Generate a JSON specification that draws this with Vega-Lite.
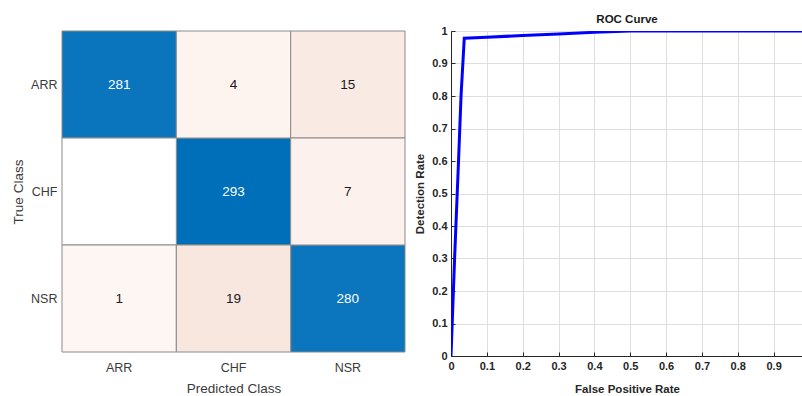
{
  "$schema": "https://vega.github.io/schema/vega-lite/v6.json",
  "autosize": {"type": "pad"},
  "padding": {"left": 11, "top": 13, "right": 0, "bottom": 0},
  "bounds": "flush",
  "spacing": 46,
  "config": {
    "font": "Liberation Sans",
    "view": {"stroke": null}
  },
  "datasets": {
    "cm": [
      {"trueClass": "ARR", "predClass": "ARR", "count": 281},
      {"trueClass": "ARR", "predClass": "CHF", "count": 4},
      {"trueClass": "ARR", "predClass": "NSR", "count": 15},
      {"trueClass": "CHF", "predClass": "ARR", "count": 0},
      {"trueClass": "CHF", "predClass": "CHF", "count": 293},
      {"trueClass": "CHF", "predClass": "NSR", "count": 7},
      {"trueClass": "NSR", "predClass": "ARR", "count": 1},
      {"trueClass": "NSR", "predClass": "CHF", "count": 19},
      {"trueClass": "NSR", "predClass": "NSR", "count": 280}
    ],
    "roc": [
      {"fpr": 0, "tpr": 0},
      {"fpr": 0.01, "tpr": 0.3},
      {"fpr": 0.021, "tpr": 0.6},
      {"fpr": 0.028, "tpr": 0.8},
      {"fpr": 0.037, "tpr": 0.978},
      {"fpr": 0.1, "tpr": 0.981},
      {"fpr": 0.2, "tpr": 0.986},
      {"fpr": 0.3, "tpr": 0.991},
      {"fpr": 0.4, "tpr": 0.996},
      {"fpr": 0.5, "tpr": 1.0},
      {"fpr": 1.0, "tpr": 1.0}
    ]
  },
  "hconcat": [
    {
      "width": 343,
      "height": 321,
      "data": {"name": "cm"},
      "encoding": {
        "x": {
          "field": "predClass", "type": "nominal", "sort": ["ARR", "CHF", "NSR"],
          "scale": {"paddingInner": 0, "paddingOuter": 0},
          "axis": {
            "title": "Predicted Class", "labelAngle": 0, "ticks": false, "domain": false,
            "labelPadding": 9, "labelFontSize": 12.5, "labelColor": "#3a3a3a",
            "titleFontSize": 13.5, "titleFontWeight": "normal", "titleColor": "#3a3a3a", "titlePadding": 8
          }
        },
        "y": {
          "field": "trueClass", "type": "nominal", "sort": ["ARR", "CHF", "NSR"],
          "scale": {"paddingInner": 0, "paddingOuter": 0},
          "axis": {
            "title": "True Class", "ticks": false, "domain": false,
            "labelPadding": 5, "labelFontSize": 12.5, "labelColor": "#3a3a3a",
            "titleFontSize": 13.5, "titleFontWeight": "normal", "titleColor": "#3a3a3a", "titlePadding": 5
          }
        }
      },
      "layer": [
        {
          "transform": [{"filter": "datum.trueClass === datum.predClass"}],
          "mark": {"type": "rect", "stroke": "#8a8a8a", "strokeWidth": 1},
          "encoding": {
            "color": {
              "field": "count", "type": "quantitative",
              "scale": {"domain": [0, 293], "range": ["#ffffff", "#006fba"], "interpolate": "rgb"},
              "legend": null
            }
          }
        },
        {
          "transform": [{"filter": "datum.trueClass !== datum.predClass"}],
          "mark": {"type": "rect", "stroke": "#8a8a8a", "strokeWidth": 1},
          "encoding": {
            "fill": {
              "field": "count", "type": "quantitative",
              "scale": {"type": "linear", "domain": [0, 1, 19], "range": ["#ffffff", "#fef6f2", "#f8e7df"], "interpolate": "rgb"},
              "legend": null
            }
          }
        },
        {
          "mark": {"type": "text", "fontSize": 13.5, "font": "Liberation Sans"},
          "transform": [{"filter": "datum.count > 0"}],
          "encoding": {
            "text": {"field": "count", "type": "quantitative"},
            "color": {
              "condition": {"test": "datum.count > 100", "value": "#ffffff"},
              "value": "#1a1a1a"
            }
          }
        }
      ]
    },
    {
      "width": 352,
      "height": 325,
      "data": {"name": "roc"},
      "view": {"stroke": "#262626", "strokeWidth": 1},
      "title": {"text": "ROC Curve", "fontSize": 11.5, "fontWeight": "bold", "color": "#1a1a1a", "offset": 0, "anchor": "middle", "frame": "group"},
      "mark": {"type": "line", "color": "#0000ff", "strokeWidth": 3, "clip": true},
      "encoding": {
        "x": {
          "field": "fpr", "type": "quantitative",
          "scale": {"domain": [0, 0.982], "nice": false},
          "axis": {
            "title": "False Positive Rate", "values": [0, 0.1, 0.2, 0.3, 0.4, 0.5, 0.6, 0.7, 0.8, 0.9],
            "format": "~g", "labelOverlap": false,
            "labelFontSize": 11, "labelFontWeight": "bold", "labelColor": "#262626",
            "titleFontSize": 11.5, "titleFontWeight": "bold", "titleColor": "#262626", "titlePadding": 12,
            "grid": true, "gridColor": "#dedede", "tickColor": "#262626", "tickSize": -4,
            "domainColor": "#262626", "labelPadding": 8, "labelFlush": false
          }
        },
        "y": {
          "field": "tpr", "type": "quantitative",
          "scale": {"domain": [0, 1], "nice": false},
          "axis": {
            "title": "Detection Rate", "values": [0, 0.1, 0.2, 0.3, 0.4, 0.5, 0.6, 0.7, 0.8, 0.9, 1],
            "format": "~g", "labelOverlap": false,
            "labelFontSize": 11, "labelFontWeight": "bold", "labelColor": "#262626",
            "titleFontSize": 11.5, "titleFontWeight": "bold", "titleColor": "#262626", "titlePadding": 6,
            "grid": true, "gridColor": "#dedede", "tickColor": "#262626", "tickSize": -4,
            "domainColor": "#262626", "labelPadding": 8, "labelFlush": false
          }
        }
      }
    }
  ]
}
